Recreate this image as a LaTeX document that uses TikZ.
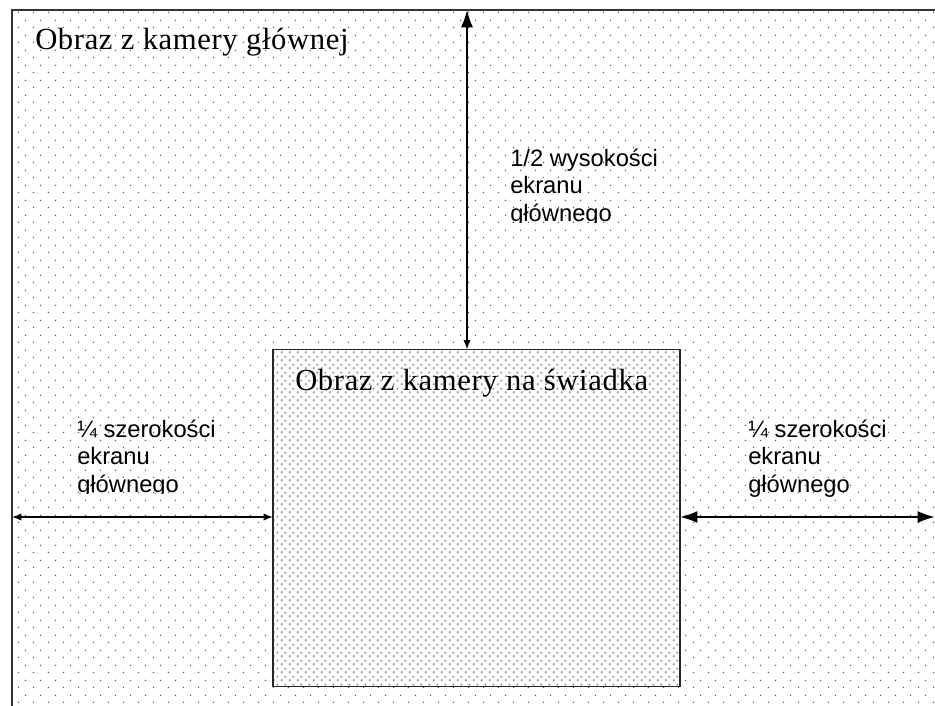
\documentclass[tikz,border=0pt]{standalone}
\usepackage{fontspec}
\setmainfont[LetterSpace=2]{Liberation Serif}
\newfontfamily\labelfont{Liberation Sans}
\usetikzlibrary{arrows.meta,patterns}

% sparse staggered dot screen for the main camera area
\pgfdeclarepatternformonly{sparsedots}{\pgfqpoint{0pt}{0pt}}{\pgfqpoint{11.25pt}{11.25pt}}{\pgfqpoint{11.25pt}{11.25pt}}{%
  \pgfpathcircle{\pgfqpoint{2.8pt}{2.8pt}}{0.6pt}%
  \pgfpathcircle{\pgfqpoint{8.425pt}{8.425pt}}{0.6pt}%
  \pgfusepath{fill}}
% denser dot screen for the witness camera inset
\pgfdeclarepatternformonly{densedots}{\pgfqpoint{0pt}{0pt}}{\pgfqpoint{6pt}{6pt}}{\pgfqpoint{6pt}{6pt}}{%
  \pgfpathcircle{\pgfqpoint{1.5pt}{1.5pt}}{1pt}%
  \pgfpathcircle{\pgfqpoint{4.5pt}{4.5pt}}{1pt}%
  \pgfusepath{fill}}

\begin{document}
\begin{tikzpicture}[x=0.75pt,y=-0.75pt,
  frameline/.style={draw=black!80, line width=1.5pt},
  insetbox/.style={draw=black!85, line width=1.4pt, inner sep=0pt, outer sep=0pt,
    preaction={fill=white}, pattern=densedots, pattern color=black!40,
    minimum width=305.25pt, minimum height=252.75pt},
  titletext/.style={inner sep=0pt, anchor=base west, font=\fontsize{23}{27}\selectfont},
  dimtext/.style={inner sep=0pt, anchor=base west, align=left,
    font=\labelfont\fontsize{17.8}{20.5}\selectfont},
  dimline/.style={draw=black, line width=1.1pt},
  bigtip/.tip={Latex[length=13pt,width=9pt]},
  smalltip/.tip={Latex[length=7pt,width=5.5pt]}]

\useasboundingbox (0,0) rectangle (935,706);
\fill[white] (0,0) rectangle (935,706);

% main camera area
\fill[pattern=sparsedots, pattern color=black!65] (13,11) rectangle (935,706);
\draw[frameline] (12,706) -- (12,10) -- (935,10);

% frame reference points
\coordinate (topedge) at (467,10);
\coordinate (leftedge) at (12,517);
\coordinate (rightedge) at (935,517);

% witness camera inset
\node[insetbox] (inset) at (476.5,518) {};

\node[titletext] (maintitle) at (35,50) {Obraz z kamery głównej};
\node[titletext] (insettitle) at (295,390) {Obraz z kamery na świadka};

% dimension arrows
\draw[dimline, {bigtip}-{smalltip}] (topedge) -- (inset.north -| topedge);
\draw[dimline, {smalltip}-{smalltip}] (leftedge) -- (inset.west |- leftedge);
\draw[dimline, line width=1.6pt, {bigtip}-{bigtip}] (inset.east |- rightedge) -- (rightedge);

% dimension labels (the base anchor sits on the last line)
\begin{scope}
  \clip (500,140) rectangle (700,222);
  \node[dimtext] (heightnote) at (510,221) {1/2 wysokości\\ekranu\\głównego};
\end{scope}
\begin{scope}
  \clip (60,410) rectangle (260,493);
  \node[dimtext] (leftnote) at (77,492) {¼ szerokości\\ekranu\\głównego};
\end{scope}
\node[dimtext] (rightnote) at (748,492) {¼ szerokości\\ekranu\\głównego};
\end{tikzpicture}
\end{document}
